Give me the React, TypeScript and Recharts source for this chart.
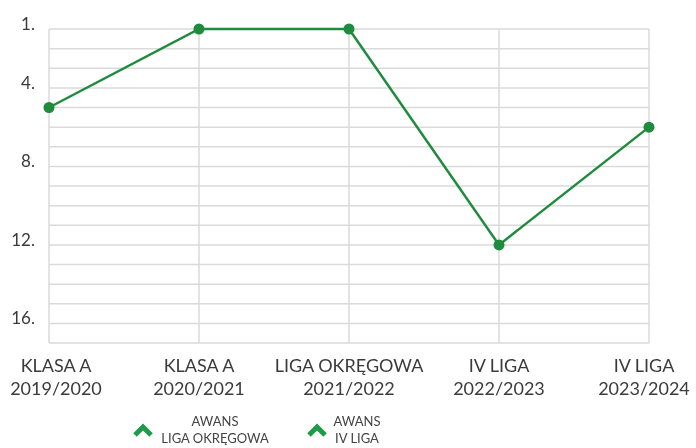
import React from 'react';
import { LineChart, Line, XAxis, YAxis, CartesianGrid, Legend } from 'recharts';

// season labels on the x axis (two lines: league + season)
const leagues = ['KLASA A', 'KLASA A', 'LIGA OKRĘGOWA', 'IV LIGA', 'IV LIGA'];
const seasons = ['2019/2020', '2020/2021', '2021/2022', '2022/2023', '2023/2024'];
// final table position per season
const positions = [5, 1, 1, 12, 6];

const yTicks = [1, 4, 8, 12, 16];
const gridRows = [1, 2, 3, 4, 5, 6, 7, 8, 9, 10, 11, 12, 13, 14, 15, 16, 17];

const legendTop = ['AWANS', 'AWANS'];
const legendBottom = ['LIGA OKRĘGOWA', 'IV LIGA'];

const data = seasons.map((season, i) => ({ season, league: leagues[i], position: positions[i] }));

const green = '#1f8b3d';
const textColor = '#3b3b3b';
const gridColor = '#dadada';
const font = 'Lato, sans-serif';

const SeasonTick = (props: any) => {
  const { x, y, payload, index } = props;
  // keep the outer labels inside the picture
  const shift = index === 0 ? 7 : index === seasons.length - 1 ? -5 : 0;
  const cx = x + shift;
  return (
    <text x={cx} y={y} textAnchor="middle" fill={textColor} fontSize={18} fontFamily={font}>
      <tspan x={cx} dy={29}>{leagues[index]}</tspan>
      <tspan x={cx} dy={23}>{payload.value}</tspan>
    </text>
  );
};

const PositionTick = (props: any) => {
  const { x, y, payload } = props;
  return (
    <text x={x} y={y - 5} dy="0.355em" textAnchor="end" fill={textColor} fontSize={17} fontFamily={font}>
      {payload.value}.
    </text>
  );
};

const Chevron = () => (
  <svg width={20} height={14} style={{ display: 'block' }}>
    <polyline points="2,12 10,4 18,12" fill="none" stroke="#1e9a48" strokeWidth={5} strokeLinejoin="miter" />
  </svg>
);

const AwansLegend = () => (
  <div style={{ display: 'flex', alignItems: 'center', height: 45, paddingTop: 8, boxSizing: 'border-box', fontFamily: font, fontSize: 13, color: '#444', lineHeight: '17px' }}>
    {legendTop.map((top, i) => (
      <div key={i} style={{ display: 'flex', alignItems: 'center', marginLeft: i === 0 ? 125 : 35 }}>
        <Chevron />
        <div style={{ textAlign: 'center', marginLeft: 5, minWidth: i === 0 ? 114 : 50 }}>
          <div>{top}</div>
          <div>{legendBottom[i]}</div>
        </div>
      </div>
    ))}
  </div>
);

export default function App() {
  return (
    <div style={{ position: 'fixed', top: 8, left: 8, width: 688, height: 440 }}>
      <LineChart
        width={688}
        height={440}
        data={data}
        margin={{ top: 21, right: 47, left: 0, bottom: 0 }}
        style={{ fontFamily: font }}
      >
        <CartesianGrid stroke={gridColor} strokeWidth={1.5} horizontalValues={gridRows} />
        <XAxis
          dataKey="season"
          interval={0}
          height={60}
          tickLine={false}
          axisLine={false}
          tickSize={0}
          tickMargin={0}
          tick={SeasonTick}
        />
        <YAxis
          type="number"
          domain={[1, 17]}
          reversed
          ticks={yTicks}
          interval={0}
          width={41}
          tickLine={false}
          axisLine={false}
          tickSize={0}
          tickMargin={14}
          tick={PositionTick}
        />
        <Legend
          verticalAlign="bottom"
          align="left"
          content={AwansLegend}
          wrapperStyle={{ left: 0, width: 688 }}
        />
        <Line
          type="linear"
          dataKey="position"
          stroke={green}
          strokeWidth={2.5}
          dot={{ r: 5.5, fill: green, stroke: 'none' }}
          activeDot={false}
          isAnimationActive={false}
        />
      </LineChart>
    </div>
  );
}
